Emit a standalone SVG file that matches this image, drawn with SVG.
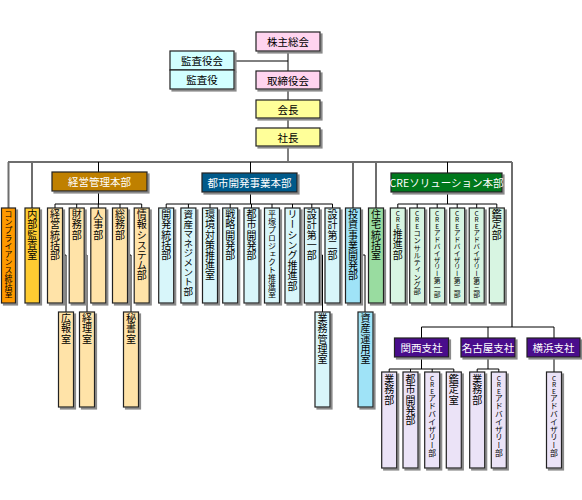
<svg xmlns="http://www.w3.org/2000/svg" width="582" height="500" viewBox="0 0 582 500">
<style>
text{font-family:"Noto Sans CJK JP","Noto Sans",sans-serif;fill:#000}
.b{stroke:#222;stroke-width:1.2}
.sh{filter:url(#ds)}
.h{font-size:10.5px;text-anchor:middle;dominant-baseline:central}
.w{fill:#fff}
.v{font-size:10px;writing-mode:vertical-rl;text-orientation:upright;text-anchor:start;letter-spacing:0.2px}
.s96{font-size:9.6px;letter-spacing:0}
.s8{font-size:8px;letter-spacing:0}
.s78{font-size:7.8px;letter-spacing:0}
.s73{font-size:7.3px;letter-spacing:0}
.s68{font-size:6.8px;letter-spacing:0}
.lat{font-size:6.5px;letter-spacing:0}
.pink{fill:#ffd4ef}.cyan{fill:#d2ffff}.yel{fill:#ffff99}
.gold{fill:#bf8000}.blue{fill:#005a8a}.grn{fill:#00781f}.pur{fill:#4a0e8c}
.org{fill:#ff9900}.yo{fill:#ffcc33}.tan{fill:#ffe3a8}.lc{fill:#d8f6fa}.cy2{fill:#9fe3f7}
.lg{fill:#99dca0}.lg2{fill:#d8f5e2}.lav{fill:#ebe3f7}
.c{stroke:#000;stroke-width:1;fill:none}
.g{stroke:#6e6e6e;stroke-width:2;fill:none}
</style>
<defs>
<filter id="ds" x="-20%" y="-20%" width="160%" height="160%">
<feDropShadow dx="2" dy="2" stdDeviation="0.5" flood-color="#8a8a8a" flood-opacity="1"/>
</filter>
</defs>
<rect width="582" height="500" fill="#fff"/>
<g id="connectors">
<path class="c" d="M288 51V162M234 61H288"/>
<path class="g" d="M8 162H512M8.5 162V208M32 162V208M353 162V208M376 162V208M512 162V327"/>
<path class="c" d="M98.5 162V172M250.5 162V173M447.5 162V173"/>
<path class="c" d="M98.5 191V204M55 204H141.7M55 204V208M76.7 204V208M98.3 204V208M120 204V208M141.7 204V208"/>
<path class="c" d="M62.5 255H66V312M84.5 255H87V312M128 255H131V312"/>
<path class="c" d="M250.5 192V204M166.2 204H332.5M166.2 204V208M188.4 204V208M210 204V208M230.2 204V208M251.5 204V208M272 204V208M292.5 204V208M311.8 204V208M332.5 204V208"/>
<path class="c" d="M319.5 255H322.5V312M361 255H365V312"/>
<path class="c" d="M447.5 192V204M397.8 204H496.8M397.8 204V208M417.2 204V208M437.2 204V208M457.2 204V208M476.7 204V208M496.8 204V208"/>
<path class="c" d="M421.5 327H554M421.5 327V338M488 327V338M554 327V338"/>
<path class="c" d="M421.5 357V369M389.2 369H453.8M389.2 369V372M410.5 369V372M432.2 369V372M453.8 369V372"/>
<path class="c" d="M488 357V369M477.2 369H498.8M477.2 369V372M498.8 369V372M554 357V372"/>
</g>

<g id="n-kabunushi"><rect class="b sh pink" x="256" y="32" width="64" height="19"/><text class="h" x="288" y="41.5">株主総会</text></g>
<g id="n-kansayakukai"><rect class="b sh cyan" x="170" y="51" width="64" height="19"/><text class="h" x="202" y="60.5">監査役会</text></g>
<g id="n-kansayaku"><rect class="b sh cyan" x="170" y="70" width="64" height="19"/><text class="h" x="202" y="79.5">監査役</text></g>
<g id="n-torishimariyakukai"><rect class="b sh pink" x="256" y="71" width="64" height="18"/><text class="h" x="288" y="80">取締役会</text></g>
<g id="n-kaicho"><rect class="b sh yel" x="256" y="100" width="64" height="18"/><text class="h" x="288" y="109">会長</text></g>
<g id="n-shacho"><rect class="b sh yel" x="256" y="128" width="64" height="18"/><text class="h" x="288" y="137">社長</text></g>

<g id="n-keiei-honbu"><rect class="b sh gold" x="52" y="172" width="95" height="19"/><text class="h w" x="99.5" y="181.5">経営管理本部</text></g>
<g id="n-toshi-honbu"><rect class="b sh blue" x="202" y="173" width="95" height="19"/><text class="h w" x="249.5" y="182.5">都市開発事業本部</text></g>
<g id="n-cre-honbu"><rect class="b sh grn" x="391" y="173" width="111" height="19"/><text class="h w" x="446.5" y="182.5">CREソリューション本部</text></g>

<g id="n-compliance"><rect class="b sh org" x="1.5" y="208" width="14" height="95"/><text class="v s8" x="8.5" y="210">コンプライアンス統括室</text></g>
<g id="n-naibu"><rect class="b sh yo" x="25" y="208" width="14.5" height="95"/><text class="v" x="32.2" y="209.5">内部監査室</text></g>

<g id="n-keieitokatsu"><rect class="b sh tan" x="47.5" y="208" width="15" height="95"/><text class="v" x="55" y="209.5">経営統括部</text></g>
<g id="n-zaimu"><rect class="b sh tan" x="69.2" y="208" width="15" height="95"/><text class="v" x="76.7" y="209.5">財務部</text></g>
<g id="n-jinji"><rect class="b sh tan" x="90.8" y="208" width="15" height="95"/><text class="v" x="98.3" y="209.5">人事部</text></g>
<g id="n-somu"><rect class="b sh tan" x="112.5" y="208" width="15" height="95"/><text class="v" x="120" y="209.5">総務部</text></g>
<g id="n-joho"><rect class="b sh tan" x="134.2" y="208" width="15" height="95"/><text class="v" x="141.7" y="209.5">情報システム部</text></g>
<g id="n-koho"><rect class="b sh tan" x="58.5" y="312" width="15" height="95"/><text class="v" x="66" y="313.5">広報室</text></g>
<g id="n-keiri"><rect class="b sh tan" x="79.5" y="312" width="15" height="95"/><text class="v" x="87" y="313.5">経理室</text></g>
<g id="n-hisho"><rect class="b sh tan" x="123.5" y="312" width="15" height="95"/><text class="v" x="131" y="313.5">秘書室</text></g>

<g id="n-kaihatsutokatsu"><rect class="b sh lc" x="158.7" y="208" width="15" height="95"/><text class="v" x="166.2" y="209.5">開発統括部</text></g>
<g id="n-shisan"><rect class="b sh lc" x="180.9" y="208" width="15" height="95"/><text class="v s96" x="188.4" y="209.5">資産マネジメント部</text></g>
<g id="n-kankyo"><rect class="b sh lc" x="202.5" y="208" width="15" height="95"/><text class="v" x="210" y="209.5">環境対策推進室</text></g>
<g id="n-senryaku"><rect class="b sh lc" x="222.7" y="208" width="15" height="95"/><text class="v" x="230.2" y="209.5">戦略開発部</text></g>
<g id="n-toshikaihatsu"><rect class="b sh lc" x="244" y="208" width="15" height="95"/><text class="v" x="251.5" y="209.5">都市開発部</text></g>
<g id="n-hiratsuka"><rect class="b sh lc" x="264.5" y="208" width="15" height="95"/><text class="v s8" x="272" y="210">平塚プロジェクト推進室</text></g>
<g id="n-leasing"><rect class="b sh lc" x="285" y="208" width="15" height="95"/><text class="v" x="292.5" y="209.5">リーシング推進部</text></g>
<g id="n-sekkei1"><rect class="b sh lc" x="304.3" y="208" width="15" height="95"/><text class="v" x="311.8" y="209.5">設計第一部</text></g>
<g id="n-sekkei2"><rect class="b sh lc" x="325" y="208" width="15" height="95"/><text class="v" x="332.5" y="209.5">設計第二部</text></g>
<g id="n-gyomukanri"><rect class="b sh lc" x="315" y="312" width="15" height="95"/><text class="v" x="322.5" y="313.5">業務管理室</text></g>

<g id="n-toshijigyo"><rect class="b sh cy2" x="345.5" y="208" width="15" height="95"/><text class="v" x="353" y="209.5">投資事業開発部</text></g>
<g id="n-shisanunyo"><rect class="b sh cy2" x="358" y="312" width="15" height="95"/><text class="v" x="365.5" y="313.5">資産運用室</text></g>
<g id="n-jutaku"><rect class="b sh lg" x="368.5" y="208" width="15" height="95"/><text class="v" x="376" y="209.5">住宅統括室</text></g>

<g id="n-cre-suishin"><rect class="b sh lg2" x="390.3" y="208" width="15" height="95"/><text class="v" x="397.8" y="210"><tspan class="lat">CRE</tspan>推進部</text></g>
<g id="n-cre-consul"><rect class="b sh lg2" x="409.7" y="208" width="15" height="95"/><text class="v s73" x="417.2" y="210"><tspan class="lat">CRE</tspan>コンサルティング部</text></g>
<g id="n-cre-adv1"><rect class="b sh lg2" x="429.7" y="208" width="15" height="95"/><text class="v s68" x="437.2" y="210"><tspan class="lat">CRE</tspan>アドバイザリー第一部</text></g>
<g id="n-cre-adv2"><rect class="b sh lg2" x="449.7" y="208" width="15" height="95"/><text class="v s68" x="457.2" y="210"><tspan class="lat">CRE</tspan>アドバイザリー第二部</text></g>
<g id="n-cre-adv3"><rect class="b sh lg2" x="469.2" y="208" width="15" height="95"/><text class="v s68" x="476.7" y="210"><tspan class="lat">CRE</tspan>アドバイザリー第三部</text></g>
<g id="n-kantei"><rect class="b sh lg2" x="489.3" y="208" width="15" height="95"/><text class="v" x="496.8" y="209.5">鑑定部</text></g>

<g id="n-kansai"><rect class="b sh pur" x="394.5" y="338" width="54" height="19"/><text class="h w" x="421.5" y="347.5">関西支社</text></g>
<g id="n-nagoya"><rect class="b sh pur" x="461" y="338" width="54" height="19"/><text class="h w" x="488" y="347.5">名古屋支社</text></g>
<g id="n-yokohama"><rect class="b sh pur" x="527" y="338" width="53" height="19"/><text class="h w" x="553.5" y="347.5">横浜支社</text></g>

<g id="n-kansai-gyomu"><rect class="b sh lav" x="381.7" y="372" width="15" height="96"/><text class="v" x="389.2" y="374.5">業務部</text></g>
<g id="n-kansai-toshi"><rect class="b sh lav" x="403" y="372" width="15" height="96"/><text class="v" x="410.5" y="374.5">都市開発部</text></g>
<g id="n-kansai-cre"><rect class="b sh lav" x="424.7" y="372" width="15" height="96"/><text class="v s78" x="432.2" y="375"><tspan class="lat">CRE</tspan>アドバイザリー部</text></g>
<g id="n-kansai-kantei"><rect class="b sh lav" x="446.3" y="372" width="15" height="96"/><text class="v" x="453.8" y="374.5">鑑定室</text></g>
<g id="n-nagoya-gyomu"><rect class="b sh lav" x="469.7" y="372" width="15" height="96"/><text class="v" x="477.2" y="374.5">業務部</text></g>
<g id="n-nagoya-cre"><rect class="b sh lav" x="491.3" y="372" width="15" height="96"/><text class="v s78" x="498.8" y="375"><tspan class="lat">CRE</tspan>アドバイザリー部</text></g>
<g id="n-yokohama-cre"><rect class="b sh lav" x="546.5" y="372" width="15" height="96"/><text class="v s78" x="554" y="375"><tspan class="lat">CRE</tspan>アドバイザリー部</text></g>
</svg>
